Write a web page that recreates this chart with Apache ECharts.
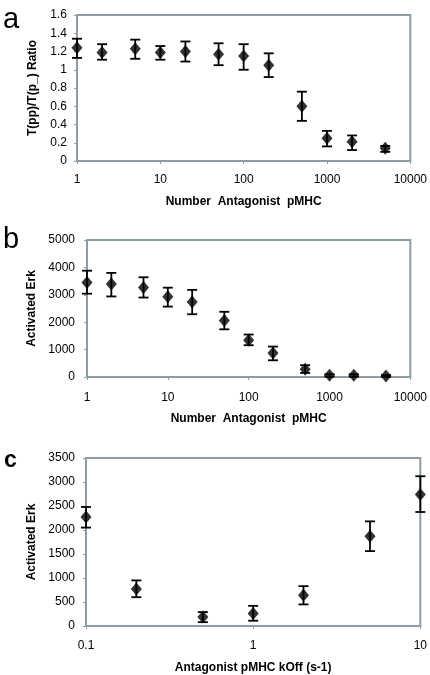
<!DOCTYPE html>
<html>
<head>
<meta charset="utf-8">
<script src="https://cdn.jsdelivr.net/npm/echarts@6/dist/echarts.min.js"></script>
<style>html,body{margin:0;padding:0;background:#fff}#c{width:430px;height:675px}</style>
</head>
<body>
<div id="c"></div>
<script>
// Panel a
const xA = [1, 2, 5, 10, 20, 50, 100, 200, 500, 1000, 2000, 5000];
const meanA = [1.24, 1.19, 1.23, 1.19, 1.20, 1.17, 1.15, 1.05, 0.60, 0.25, 0.21, 0.14];
const lowA  = [1.13, 1.11, 1.12, 1.11, 1.09, 1.05, 1.00, 0.92, 0.44, 0.16, 0.12, 0.10];
const highA = [1.34, 1.28, 1.33, 1.26, 1.31, 1.29, 1.28, 1.18, 0.76, 0.33, 0.28, 0.165];
// Panel b
const xB = [1, 2, 5, 10, 20, 50, 100, 200, 500, 1000, 2000, 5000];
const meanB = [3450, 3390, 3270, 2930, 2740, 2060, 1340, 880, 280, 60, 60, 40];
const lowB  = [3040, 2940, 2900, 2570, 2290, 1740, 1160, 610, 150, 10, 10, 5];
const highB = [3880, 3800, 3640, 3260, 3180, 2380, 1550, 1110, 430, 100, 100, 70];
// Panel c
const xC = [0.1, 0.2, 0.5, 1, 2, 5, 10];
const meanC = [2270, 770, 190, 260, 640, 1870, 2740];
const lowC  = [2050, 600, 80, 110, 450, 1560, 2375];
const highC = [2480, 950, 290, 420, 830, 2180, 3120];

const yTicksA = {min: 0, max: 1.6, interval: 0.2};
const yTicksB = {min: 0, max: 5000, interval: 1000};
const yTicksC = {min: 0, max: 3500, interval: 500};

const FRAME = '#8c9ea4';
const FONT = 'Liberation Sans, Arial, sans-serif';

function errSeries(idx, xs, lo, hi) {
  return {
    type: 'custom', xAxisIndex: idx, yAxisIndex: idx, z: 2,
    data: xs.map((x, i) => [x, lo[i], hi[i]]),
    renderItem: function (params, api) {
      const x = api.value(0);
      const pLo = api.coord([x, api.value(1)]);
      const pHi = api.coord([x, api.value(2)]);
      const w = 5;
      const st = {stroke: '#000', lineWidth: 1.8};
      return {type: 'group', children: [
        {type: 'line', shape: {x1: pLo[0], y1: pLo[1], x2: pHi[0], y2: pHi[1]}, style: st},
        {type: 'line', shape: {x1: pLo[0] - w, y1: pLo[1], x2: pLo[0] + w, y2: pLo[1]}, style: st},
        {type: 'line', shape: {x1: pHi[0] - w, y1: pHi[1], x2: pHi[0] + w, y2: pHi[1]}, style: st}
      ]};
    }
  };
}
function ptSeries(idx, xs, ys) {
  return {
    type: 'scatter', xAxisIndex: idx, yAxisIndex: idx, z: 3,
    symbol: 'diamond', symbolSize: [11, 13],
    itemStyle: {color: '#000'},
    data: xs.map((x, i) => [x, ys[i]])
  };
}
function xAx(idx, min, max, name, labelMargin, nameGap) {
  return {
    type: 'log', logBase: 10, gridIndex: idx, min: min, max: max,
    name: name, nameLocation: 'middle', nameGap: nameGap,
    nameTextStyle: {fontFamily: FONT, fontSize: 12, fontWeight: 'bold', color: '#000'},
    axisLine: {lineStyle: {color: FRAME, width: 2}},
    axisTick: {show: true, length: 3, lineStyle: {color: FRAME}},
    minorTick: {show: false},
    splitLine: {show: false},
    axisLabel: {fontFamily: FONT, fontSize: 12, color: '#000', margin: labelMargin,
      formatter: v => String(+v.toPrecision(6))}
  };
}
function yAx(idx, t, name, labelMargin, nameGap) {
  return {
    type: 'value', gridIndex: idx, min: t.min, max: t.max, interval: t.interval,
    name: name, nameLocation: 'middle', nameGap: nameGap,
    nameTextStyle: {fontFamily: FONT, fontSize: 12, fontWeight: 'bold', color: '#000'},
    axisLine: {show: true, lineStyle: {color: FRAME, width: 2}},
    axisTick: {show: true, length: 3, lineStyle: {color: FRAME}},
    splitLine: {show: false},
    axisLabel: {fontFamily: FONT, fontSize: 12, color: '#000', margin: labelMargin,
      formatter: v => String(+v.toFixed(2))}
  };
}

const chart = echarts.init(document.getElementById('c'), null, {renderer: 'canvas'});
chart.setOption({
  animation: false,
  backgroundColor: '#fff',
  grid: [
    {left: 77, top: 15, width: 339, height: 146, show: true, borderColor: FRAME, borderWidth: 2},
    {left: 87, top: 240, width: 331, height: 137, show: true, borderColor: FRAME, borderWidth: 2},
    {left: 86, top: 458, width: 337, height: 168, show: true, borderColor: FRAME, borderWidth: 2}
  ],
  xAxis: [
    xAx(0, 1, 10000, 'Number  Antagonist  pMHC', 13, 35),
    xAx(1, 1, 10000, 'Number  Antagonist  pMHC', 15, 36),
    xAx(2, 0.1, 10, 'Antagonist pMHC kOff (s-1)', 14, 36)
  ],
  yAxis: [
    yAx(0, yTicksA, 'T(pp)/T(p_) Ratio', 10, 38),
    yAx(1, yTicksB, 'Activated Erk', 12, 48),
    yAx(2, yTicksC, 'Activated Erk', 11, 47)
  ],
  series: [
    errSeries(0, xA, lowA, highA), ptSeries(0, xA, meanA),
    errSeries(1, xB, lowB, highB), ptSeries(1, xB, meanB),
    errSeries(2, xC, lowC, highC), ptSeries(2, xC, meanC)
  ],
  graphic: [
    {type: 'text', left: 3, top: 5, style: {text: 'a', font: '29px ' + FONT, fill: '#000'}},
    {type: 'text', left: 3, top: 225, style: {text: 'b', font: '29px ' + FONT, fill: '#000'}},
    {type: 'text', left: 4, top: 449, style: {text: 'c', font: 'bold 23px ' + FONT, fill: '#000'}}
  ]
});
</script>
</body>
</html>
